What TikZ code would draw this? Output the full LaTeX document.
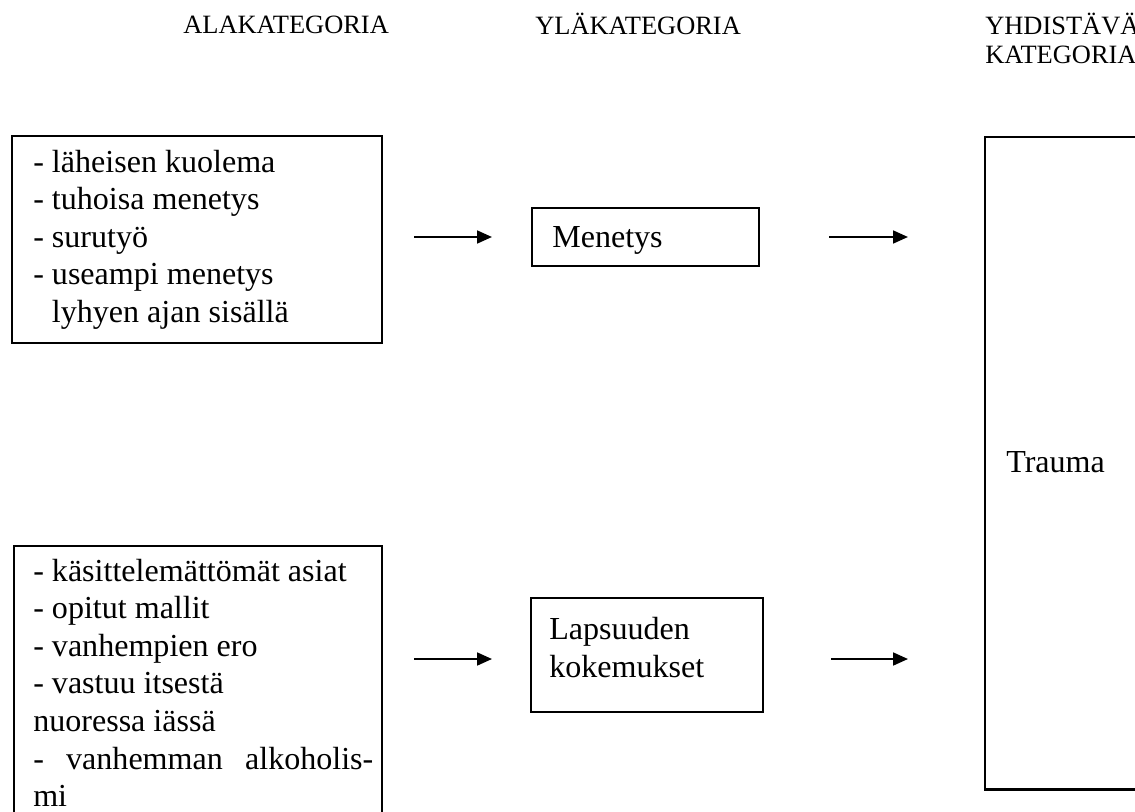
\documentclass[tikz,border=0pt]{standalone}
\usepackage{fontspec}
\setmainfont{Liberation Serif}
\usetikzlibrary{arrows.meta}

\newcommand{\bodysize}{\fontsize{22.8pt}{26.7pt}\selectfont}
\newcommand{\headsize}{\fontsize{18.8pt}{20.6pt}\selectfont}

\begin{document}
\begin{tikzpicture}[x=0.025cm, y=-0.025cm, >={Triangle[length=0.37cm, width=0.32cm]}, font=\bodysize,
		box/.style={draw, line width=1.4pt, rectangle, anchor=north west, inner sep=0pt},
		txt/.style={anchor=north west, inner sep=0pt, align=left},
		head/.style={txt, font=\headsize},
		arr/.style={->, line width=1.4pt}]
				\path[use as bounding box, clip] (0,0) rectangle (1135,811);
				
				% otsikot
				\node[head] (hAla) at (183,13) {\strut ALAKATEGORIA};
				\node[head] (hYla) at (535,13) {\strut YLÄKATEGORIA};
				\node[head] (hYhd) at (985,13) {\strut YHDISTÄVÄ\\KATEGORIA};
				
				% laatikot
				\node[box, minimum width=9.25cm, minimum height=5.175cm] (ala1) at (11,135) {};
				\node[box, minimum width=9.2cm, minimum height=7.2cm] (ala2) at (13,545) {};
				\node[box, minimum width=5.675cm, minimum height=1.45cm] (mene) at (531,207) {};
				\node[box, minimum width=5.8cm, minimum height=2.85cm] (lapsu) at (530,597) {};
				\node[box, line width=1.7pt, minimum width=5cm, minimum height=16.3cm] (trauma) at (984,136) {};
				
				% tekstit
				\node[txt] (ala1t) at (33,145.7) {\strut - läheisen kuolema\\- tuhoisa menetys\\- surutyö\\- useampi menetys\\\hphantom{-}\ lyhyen ajan sisällä};
				\node[txt] (ala2t) at (33,554.7) {\strut - käsittelemättömät asiat\\- opitut mallit\\- vanhempien ero\\- vastuu itsestä\\nuoressa iässä\\\makebox[8.5cm][s]{- vanhemman alkoholis-}\\mi};
				\node[anchor=base west, inner sep=0pt] (menet) at (552,247) {Menetys};
				\node[txt] (lapsut) at (549,613) {\strut Lapsuuden\\kokemukset};
				\node[anchor=base west, inner sep=0pt] (traumat) at (1006,472) {Trauma};
				
				\coordinate (lapsuIn) at ([yshift=-0.1cm]lapsu.west);
				\coordinate (lapsuOut) at ([yshift=-0.1cm]lapsu.east);
				
				\draw[arr, shorten <=0.775cm, shorten >=0.975cm] (ala1.east |- mene.west) -- (mene.west);
				\draw[arr, shorten <=1.725cm, shorten >=1.9cm] (mene.east) -- (mene.east -| trauma.west);
				\draw[arr, shorten <=0.775cm, shorten >=0.95cm] (ala2.east |- lapsuIn) -- (lapsuIn);
				\draw[arr, shorten <=1.675cm, shorten >=1.9cm] (lapsuOut) -- (lapsuOut -| trauma.west);
			\end{tikzpicture}
\end{document}
